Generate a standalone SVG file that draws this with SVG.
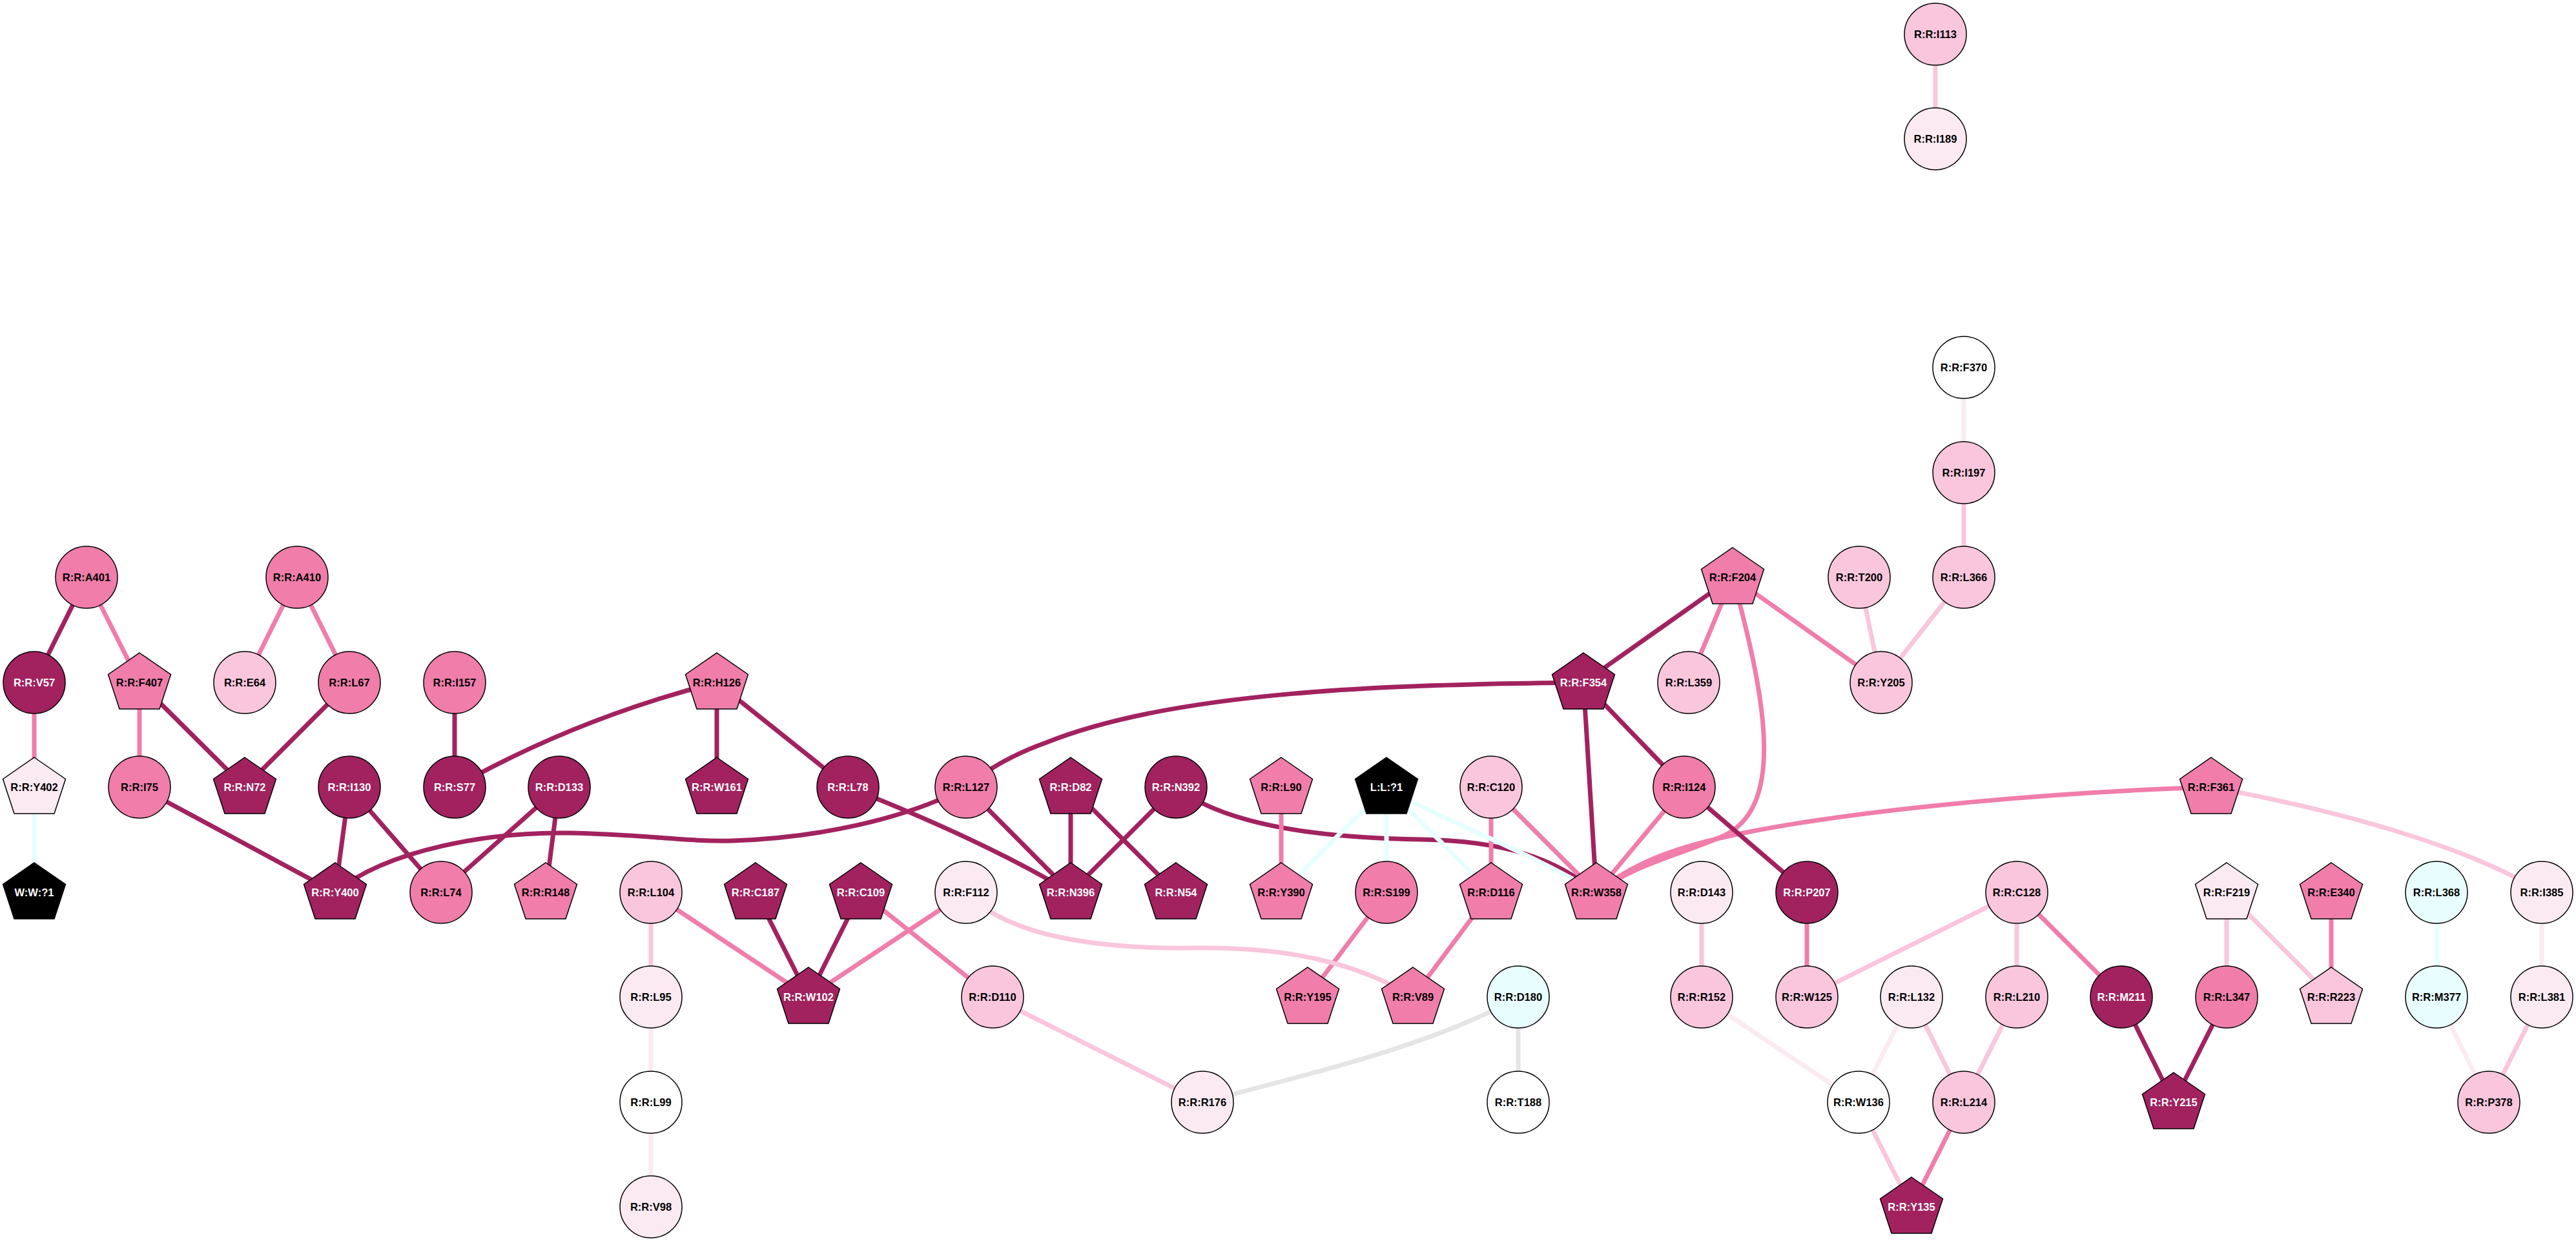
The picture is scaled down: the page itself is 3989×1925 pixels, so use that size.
<svg xmlns="http://www.w3.org/2000/svg" xmlns:xlink="http://www.w3.org/1999/xlink" width="3989" height="1925" viewBox="0 0 3989 1925">
<style>
.e{fill:none;stroke-width:7;stroke-linecap:butt}
.edk{stroke:#A2225F}.emd{stroke:#F07DAA}.elt{stroke:#F9C6DC}.evl{stroke:#FCEAF2}.ecy{stroke:#E6FFFF}.egy{stroke:#E5E5E5}
.n{stroke:#000;stroke-width:1.5}
.dk{fill:#A2225F}.md{fill:#F07DAA}.lt{fill:#F9C6DC}.vl{fill:#FCEAF2}.cy{fill:#E8FEFE}.wh{fill:#FFFFFF}.bk{fill:#000000}
text{font-family:"Liberation Sans",Arial,sans-serif;font-weight:bold;font-size:16.5px;text-anchor:middle;fill:#000}
text.w{fill:#FFFFFF}
</style>
<defs>
<polygon id="pent" points="0,-46 48.5,-12.5 31,41 -31,41 -48.5,-12.5"/>
</defs>
<rect width="3989" height="1925" fill="#FFFFFF"/>
<g id="edges">
<line class="e edk" x1="134" y1="894" x2="53" y2="1057"/>
<line class="e emd" x1="134" y1="894" x2="216" y2="1057"/>
<line class="e emd" x1="460" y1="894" x2="379" y2="1057"/>
<line class="e emd" x1="460" y1="894" x2="541" y2="1057"/>
<line class="e emd" x1="53" y1="1057" x2="53" y2="1219"/>
<line class="e ecy" x1="53" y1="1219" x2="53" y2="1382"/>
<line class="e emd" x1="216" y1="1057" x2="216" y2="1219"/>
<line class="e edk" x1="216" y1="1057" x2="379" y2="1219"/>
<line class="e edk" x1="541" y1="1057" x2="379" y2="1219"/>
<line class="e edk" x1="216" y1="1219" x2="519" y2="1382"/>
<line class="e edk" x1="541" y1="1219" x2="519" y2="1382"/>
<line class="e edk" x1="541" y1="1219" x2="683" y2="1382"/>
<path class="e edk" d="M519,1382 C600,1315 760,1288 880,1290 C1000,1292 1060,1304 1135,1302 C1260,1298 1400,1270 1496,1219"/>
<line class="e edk" x1="866" y1="1219" x2="683" y2="1382"/>
<line class="e edk" x1="866" y1="1219" x2="845" y2="1382"/>
<line class="e edk" x1="704" y1="1057" x2="704" y2="1219"/>
<path class="e edk" d="M1110,1057 Q893,1112 704,1219"/>
<line class="e edk" x1="1110" y1="1057" x2="1110" y2="1219"/>
<line class="e edk" x1="1110" y1="1057" x2="1313" y2="1219"/>
<line class="e edk" x1="1496" y1="1219" x2="1658" y2="1382"/>
<path class="e edk" d="M1313,1219 Q1520,1300 1658,1382"/>
<line class="e edk" x1="1658" y1="1219" x2="1658" y2="1382"/>
<line class="e edk" x1="1658" y1="1219" x2="1821" y2="1382"/>
<line class="e edk" x1="1821" y1="1219" x2="1658" y2="1382"/>
<path class="e edk" d="M1821,1219 C1900,1280 2050,1298 2200,1300 C2330,1302 2410,1330 2472,1382"/>
<line class="e edk" x1="2683" y1="894" x2="2452" y2="1057"/>
<line class="e emd" x1="2683" y1="894" x2="2615" y2="1057"/>
<line class="e emd" x1="2683" y1="894" x2="2913" y2="1057"/>
<path class="e emd" d="M2683,894 C2740,1100 2760,1250 2670,1294 C2600,1325 2540,1335 2472,1382"/>
<path class="e emd" d="M3424,1219 C3200,1226 2900,1250 2700,1290 C2600,1310 2530,1335 2472,1382"/>
<path class="e edk" d="M2452,1057 C2150,1060 1820,1070 1620,1150 C1570,1168 1530,1190 1496,1219"/>
<line class="e edk" x1="2452" y1="1057" x2="2472" y2="1382"/>
<line class="e edk" x1="2452" y1="1057" x2="2608" y2="1219"/>
<line class="e emd" x1="2608" y1="1219" x2="2472" y2="1382"/>
<line class="e edk" x1="2608" y1="1219" x2="2798" y2="1382"/>
<line class="e emd" x1="2309" y1="1219" x2="2472" y2="1382"/>
<line class="e emd" x1="2309" y1="1219" x2="2309" y2="1382"/>
<line class="e emd" x1="1984" y1="1219" x2="1984" y2="1382"/>
<line class="e emd" x1="2147" y1="1382" x2="2025" y2="1544"/>
<line class="e emd" x1="2309" y1="1382" x2="2188" y2="1544"/>
<line class="e ecy" x1="2147" y1="1219" x2="1984" y2="1382"/>
<line class="e ecy" x1="2147" y1="1219" x2="2147" y2="1382"/>
<line class="e ecy" x1="2147" y1="1219" x2="2309" y2="1382"/>
<path class="e ecy" d="M2147,1219 C2230,1270 2350,1310 2472,1382"/>
<line class="e emd" x1="1496" y1="1382" x2="1252" y2="1544"/>
<path class="e elt" d="M1496,1382 C1560,1450 1700,1470 1850,1468 C1990,1466 2100,1490 2188,1544"/>
<line class="e edk" x1="1333" y1="1382" x2="1252" y2="1544"/>
<line class="e edk" x1="1170" y1="1382" x2="1252" y2="1544"/>
<line class="e emd" x1="1008" y1="1382" x2="1252" y2="1544"/>
<line class="e emd" x1="1333" y1="1382" x2="1537" y2="1544"/>
<line class="e elt" x1="1008" y1="1382" x2="1008" y2="1544"/>
<line class="e evl" x1="1008" y1="1544" x2="1008" y2="1707"/>
<line class="e evl" x1="1008" y1="1707" x2="1008" y2="1869"/>
<line class="e elt" x1="1537" y1="1544" x2="1862" y2="1707"/>
<path class="e egy" d="M1862,1707 C2000,1670 2220,1620 2351,1544"/>
<line class="e egy" x1="2351" y1="1544" x2="2351" y2="1707"/>
<line class="e elt" x1="2635" y1="1382" x2="2635" y2="1544"/>
<line class="e emd" x1="2798" y1="1382" x2="2798" y2="1544"/>
<line class="e elt" x1="3123" y1="1382" x2="2798" y2="1544"/>
<line class="e elt" x1="3123" y1="1382" x2="3123" y2="1544"/>
<line class="e emd" x1="3123" y1="1382" x2="3285" y2="1544"/>
<line class="e evl" x1="2635" y1="1544" x2="2878" y2="1707"/>
<line class="e evl" x1="2960" y1="1544" x2="2878" y2="1707"/>
<line class="e elt" x1="2960" y1="1544" x2="3041" y2="1707"/>
<line class="e elt" x1="3123" y1="1544" x2="3041" y2="1707"/>
<line class="e elt" x1="2878" y1="1707" x2="2960" y2="1869"/>
<line class="e emd" x1="3041" y1="1707" x2="2960" y2="1869"/>
<line class="e edk" x1="3285" y1="1544" x2="3366" y2="1707"/>
<line class="e edk" x1="3448" y1="1544" x2="3366" y2="1707"/>
<line class="e elt" x1="3448" y1="1382" x2="3448" y2="1544"/>
<line class="e elt" x1="3448" y1="1382" x2="3610" y2="1544"/>
<line class="e emd" x1="3610" y1="1382" x2="3610" y2="1544"/>
<line class="e ecy" x1="3773" y1="1382" x2="3773" y2="1544"/>
<line class="e evl" x1="3773" y1="1544" x2="3854" y2="1707"/>
<line class="e evl" x1="3936" y1="1382" x2="3936" y2="1544"/>
<line class="e elt" x1="3936" y1="1544" x2="3854" y2="1707"/>
<path class="e elt" d="M3424,1219 C3620,1255 3820,1310 3936,1382"/>
<line class="e elt" x1="2879" y1="894" x2="2913" y2="1057"/>
<line class="e elt" x1="3041" y1="894" x2="2913" y2="1057"/>
<line class="e elt" x1="3041" y1="732" x2="3041" y2="894"/>
<line class="e evl" x1="3041" y1="569" x2="3041" y2="732"/>
<line class="e elt" x1="2997" y1="53" x2="2997" y2="215"/>
</g>
<g id="n-I113"><circle class="n lt" cx="2997" cy="53" r="48"/><text x="2997" y="59">R:R:I113</text></g>
<g id="n-I189"><circle class="n vl" cx="2997" cy="215" r="48"/><text x="2997" y="221">R:R:I189</text></g>
<g id="n-F370"><circle class="n wh" cx="3041" cy="569" r="48"/><text x="3041" y="575">R:R:F370</text></g>
<g id="n-I197"><circle class="n lt" cx="3041" cy="732" r="48"/><text x="3041" y="738">R:R:I197</text></g>
<g id="n-A401"><circle class="n md" cx="134" cy="894" r="48"/><text x="134" y="900">R:R:A401</text></g>
<g id="n-A410"><circle class="n md" cx="460" cy="894" r="48"/><text x="460" y="900">R:R:A410</text></g>
<g id="n-F204"><use href="#pent" xlink:href="#pent" class="n md" x="2683" y="894"/><text x="2683" y="900">R:R:F204</text></g>
<g id="n-T200"><circle class="n lt" cx="2879" cy="894" r="48"/><text x="2879" y="900">R:R:T200</text></g>
<g id="n-L366"><circle class="n lt" cx="3041" cy="894" r="48"/><text x="3041" y="900">R:R:L366</text></g>
<g id="n-V57"><circle class="n dk" cx="53" cy="1057" r="48"/><text class="w" x="53" y="1063">R:R:V57</text></g>
<g id="n-F407"><use href="#pent" xlink:href="#pent" class="n md" x="216" y="1057"/><text x="216" y="1063">R:R:F407</text></g>
<g id="n-E64"><circle class="n lt" cx="379" cy="1057" r="48"/><text x="379" y="1063">R:R:E64</text></g>
<g id="n-L67"><circle class="n md" cx="541" cy="1057" r="48"/><text x="541" y="1063">R:R:L67</text></g>
<g id="n-I157"><circle class="n md" cx="704" cy="1057" r="48"/><text x="704" y="1063">R:R:I157</text></g>
<g id="n-H126"><use href="#pent" xlink:href="#pent" class="n md" x="1110" y="1057"/><text x="1110" y="1063">R:R:H126</text></g>
<g id="n-F354"><use href="#pent" xlink:href="#pent" class="n dk" x="2452" y="1057"/><text class="w" x="2452" y="1063">R:R:F354</text></g>
<g id="n-L359"><circle class="n lt" cx="2615" cy="1057" r="48"/><text x="2615" y="1063">R:R:L359</text></g>
<g id="n-Y205"><circle class="n lt" cx="2913" cy="1057" r="48"/><text x="2913" y="1063">R:R:Y205</text></g>
<g id="n-Y402"><use href="#pent" xlink:href="#pent" class="n vl" x="53" y="1219"/><text x="53" y="1225">R:R:Y402</text></g>
<g id="n-I75"><circle class="n md" cx="216" cy="1219" r="48"/><text x="216" y="1225">R:R:I75</text></g>
<g id="n-N72"><use href="#pent" xlink:href="#pent" class="n dk" x="379" y="1219"/><text class="w" x="379" y="1225">R:R:N72</text></g>
<g id="n-I130"><circle class="n dk" cx="541" cy="1219" r="48"/><text class="w" x="541" y="1225">R:R:I130</text></g>
<g id="n-S77"><circle class="n dk" cx="704" cy="1219" r="48"/><text class="w" x="704" y="1225">R:R:S77</text></g>
<g id="n-D133"><circle class="n dk" cx="866" cy="1219" r="48"/><text class="w" x="866" y="1225">R:R:D133</text></g>
<g id="n-W161"><use href="#pent" xlink:href="#pent" class="n dk" x="1110" y="1219"/><text class="w" x="1110" y="1225">R:R:W161</text></g>
<g id="n-L78"><circle class="n dk" cx="1313" cy="1219" r="48"/><text class="w" x="1313" y="1225">R:R:L78</text></g>
<g id="n-L127"><circle class="n md" cx="1496" cy="1219" r="48"/><text x="1496" y="1225">R:R:L127</text></g>
<g id="n-D82"><use href="#pent" xlink:href="#pent" class="n dk" x="1658" y="1219"/><text class="w" x="1658" y="1225">R:R:D82</text></g>
<g id="n-N392"><circle class="n dk" cx="1821" cy="1219" r="48"/><text class="w" x="1821" y="1225">R:R:N392</text></g>
<g id="n-L90"><use href="#pent" xlink:href="#pent" class="n md" x="1984" y="1219"/><text x="1984" y="1225">R:R:L90</text></g>
<g id="n-L1"><use href="#pent" xlink:href="#pent" class="n bk" x="2147" y="1219"/><text class="w" x="2147" y="1225">L:L:?1</text></g>
<g id="n-C120"><circle class="n lt" cx="2309" cy="1219" r="48"/><text x="2309" y="1225">R:R:C120</text></g>
<g id="n-I124"><circle class="n md" cx="2608" cy="1219" r="48"/><text x="2608" y="1225">R:R:I124</text></g>
<g id="n-F361"><use href="#pent" xlink:href="#pent" class="n md" x="3424" y="1219"/><text x="3424" y="1225">R:R:F361</text></g>
<g id="n-W1"><use href="#pent" xlink:href="#pent" class="n bk" x="53" y="1382"/><text class="w" x="53" y="1388">W:W:?1</text></g>
<g id="n-Y400"><use href="#pent" xlink:href="#pent" class="n dk" x="519" y="1382"/><text class="w" x="519" y="1388">R:R:Y400</text></g>
<g id="n-L74"><circle class="n md" cx="683" cy="1382" r="48"/><text x="683" y="1388">R:R:L74</text></g>
<g id="n-R148"><use href="#pent" xlink:href="#pent" class="n md" x="845" y="1382"/><text x="845" y="1388">R:R:R148</text></g>
<g id="n-L104"><circle class="n lt" cx="1008" cy="1382" r="48"/><text x="1008" y="1388">R:R:L104</text></g>
<g id="n-C187"><use href="#pent" xlink:href="#pent" class="n dk" x="1170" y="1382"/><text class="w" x="1170" y="1388">R:R:C187</text></g>
<g id="n-C109"><use href="#pent" xlink:href="#pent" class="n dk" x="1333" y="1382"/><text class="w" x="1333" y="1388">R:R:C109</text></g>
<g id="n-F112"><circle class="n vl" cx="1496" cy="1382" r="48"/><text x="1496" y="1388">R:R:F112</text></g>
<g id="n-N396"><use href="#pent" xlink:href="#pent" class="n dk" x="1658" y="1382"/><text class="w" x="1658" y="1388">R:R:N396</text></g>
<g id="n-N54"><use href="#pent" xlink:href="#pent" class="n dk" x="1821" y="1382"/><text class="w" x="1821" y="1388">R:R:N54</text></g>
<g id="n-Y390"><use href="#pent" xlink:href="#pent" class="n md" x="1984" y="1382"/><text x="1984" y="1388">R:R:Y390</text></g>
<g id="n-S199"><circle class="n md" cx="2147" cy="1382" r="48"/><text x="2147" y="1388">R:R:S199</text></g>
<g id="n-D116"><use href="#pent" xlink:href="#pent" class="n md" x="2309" y="1382"/><text x="2309" y="1388">R:R:D116</text></g>
<g id="n-W358"><use href="#pent" xlink:href="#pent" class="n md" x="2472" y="1382"/><text x="2472" y="1388">R:R:W358</text></g>
<g id="n-D143"><circle class="n vl" cx="2635" cy="1382" r="48"/><text x="2635" y="1388">R:R:D143</text></g>
<g id="n-P207"><circle class="n dk" cx="2798" cy="1382" r="48"/><text class="w" x="2798" y="1388">R:R:P207</text></g>
<g id="n-C128"><circle class="n lt" cx="3123" cy="1382" r="48"/><text x="3123" y="1388">R:R:C128</text></g>
<g id="n-F219"><use href="#pent" xlink:href="#pent" class="n vl" x="3448" y="1382"/><text x="3448" y="1388">R:R:F219</text></g>
<g id="n-E340"><use href="#pent" xlink:href="#pent" class="n md" x="3610" y="1382"/><text x="3610" y="1388">R:R:E340</text></g>
<g id="n-L368"><circle class="n cy" cx="3773" cy="1382" r="48"/><text x="3773" y="1388">R:R:L368</text></g>
<g id="n-I385"><circle class="n vl" cx="3936" cy="1382" r="48"/><text x="3936" y="1388">R:R:I385</text></g>
<g id="n-L95"><circle class="n vl" cx="1008" cy="1544" r="48"/><text x="1008" y="1550">R:R:L95</text></g>
<g id="n-W102"><use href="#pent" xlink:href="#pent" class="n dk" x="1252" y="1544"/><text class="w" x="1252" y="1550">R:R:W102</text></g>
<g id="n-D110"><circle class="n lt" cx="1537" cy="1544" r="48"/><text x="1537" y="1550">R:R:D110</text></g>
<g id="n-Y195"><use href="#pent" xlink:href="#pent" class="n md" x="2025" y="1544"/><text x="2025" y="1550">R:R:Y195</text></g>
<g id="n-V89"><use href="#pent" xlink:href="#pent" class="n md" x="2188" y="1544"/><text x="2188" y="1550">R:R:V89</text></g>
<g id="n-D180"><circle class="n cy" cx="2351" cy="1544" r="48"/><text x="2351" y="1550">R:R:D180</text></g>
<g id="n-R152"><circle class="n lt" cx="2635" cy="1544" r="48"/><text x="2635" y="1550">R:R:R152</text></g>
<g id="n-W125"><circle class="n lt" cx="2798" cy="1544" r="48"/><text x="2798" y="1550">R:R:W125</text></g>
<g id="n-L132"><circle class="n vl" cx="2960" cy="1544" r="48"/><text x="2960" y="1550">R:R:L132</text></g>
<g id="n-L210"><circle class="n lt" cx="3123" cy="1544" r="48"/><text x="3123" y="1550">R:R:L210</text></g>
<g id="n-M211"><circle class="n dk" cx="3285" cy="1544" r="48"/><text class="w" x="3285" y="1550">R:R:M211</text></g>
<g id="n-L347"><circle class="n md" cx="3448" cy="1544" r="48"/><text x="3448" y="1550">R:R:L347</text></g>
<g id="n-R223"><use href="#pent" xlink:href="#pent" class="n lt" x="3610" y="1544"/><text x="3610" y="1550">R:R:R223</text></g>
<g id="n-M377"><circle class="n cy" cx="3773" cy="1544" r="48"/><text x="3773" y="1550">R:R:M377</text></g>
<g id="n-L381"><circle class="n vl" cx="3936" cy="1544" r="48"/><text x="3936" y="1550">R:R:L381</text></g>
<g id="n-L99"><circle class="n wh" cx="1008" cy="1707" r="48"/><text x="1008" y="1713">R:R:L99</text></g>
<g id="n-R176"><circle class="n vl" cx="1862" cy="1707" r="48"/><text x="1862" y="1713">R:R:R176</text></g>
<g id="n-T188"><circle class="n wh" cx="2351" cy="1707" r="48"/><text x="2351" y="1713">R:R:T188</text></g>
<g id="n-W136"><circle class="n wh" cx="2878" cy="1707" r="48"/><text x="2878" y="1713">R:R:W136</text></g>
<g id="n-L214"><circle class="n lt" cx="3041" cy="1707" r="48"/><text x="3041" y="1713">R:R:L214</text></g>
<g id="n-Y215"><use href="#pent" xlink:href="#pent" class="n dk" x="3366" y="1707"/><text class="w" x="3366" y="1713">R:R:Y215</text></g>
<g id="n-P378"><circle class="n lt" cx="3854" cy="1707" r="48"/><text x="3854" y="1713">R:R:P378</text></g>
<g id="n-V98"><circle class="n vl" cx="1008" cy="1869" r="48"/><text x="1008" y="1875">R:R:V98</text></g>
<g id="n-Y135"><use href="#pent" xlink:href="#pent" class="n dk" x="2960" y="1869"/><text class="w" x="2960" y="1875">R:R:Y135</text></g>
</svg>
